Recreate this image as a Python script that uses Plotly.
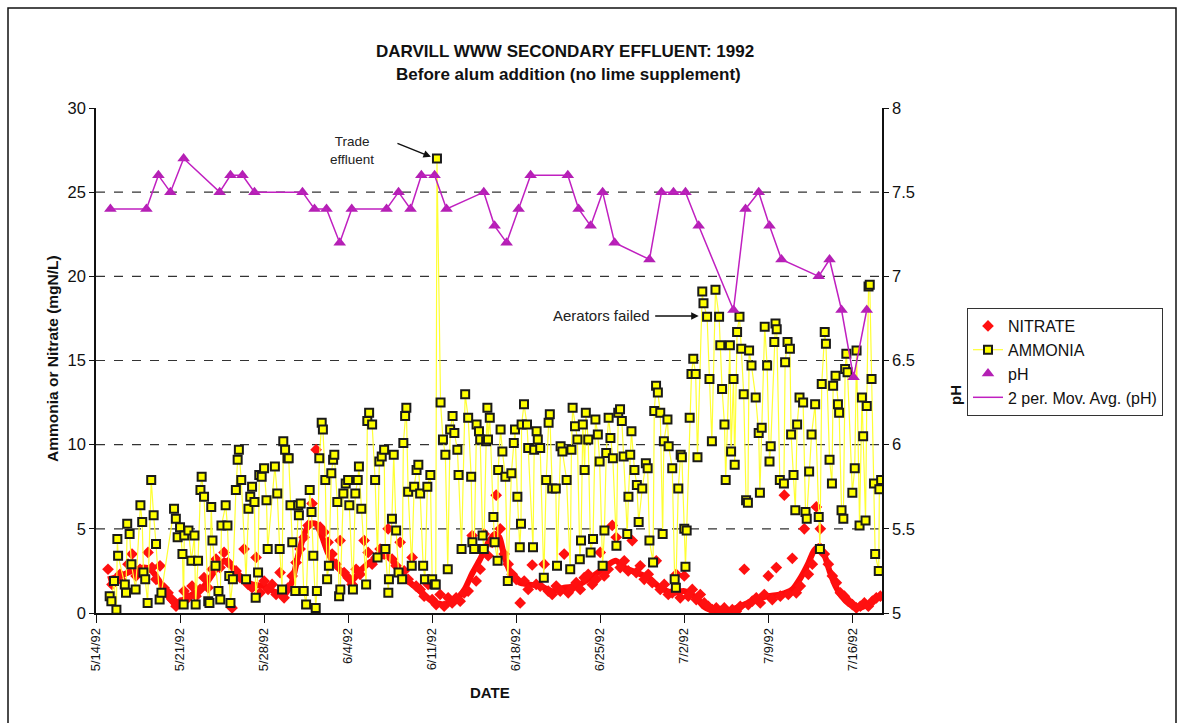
import pandas as pd
import plotly.graph_objects as go

START = pd.Timestamp("1992-05-14")

# ---- pH (daily grab samples); sample time in days after 5/14/92 00:00 ----
ph_day = [1.2, 4.2, 5.2, 6.2, 7.3, 10.3, 11.2, 12.2, 13.2, 17.2, 18.2, 19.2, 20.3, 21.3,
          24.2, 25.2, 26.2, 27.1, 28.2, 29.2, 32.3, 33.2, 34.2, 35.2, 36.2, 39.3, 40.2,
          41.2, 42.2, 43.2, 46.1, 47.1, 48.1, 49.1, 50.2, 53.1, 54.1, 55.2, 56.1, 57.1,
          60.2, 61.1, 62.1, 63.1, 64.2]
ph_val = [7.4, 7.4, 7.6, 7.5, 7.7, 7.5, 7.6, 7.6, 7.5, 7.5, 7.4, 7.4, 7.2, 7.4,
          7.4, 7.5, 7.4, 7.6, 7.6, 7.4, 7.5, 7.3, 7.2, 7.4, 7.6, 7.6, 7.4,
          7.3, 7.5, 7.2, 7.1, 7.5, 7.5, 7.5, 7.3, 6.8, 7.4, 7.5, 7.3, 7.1,
          7.0, 7.1, 6.8, 6.4, 6.8]

# ---- Ammonia (mgN/L) ----
ammonia_day = [
    1.14, 1.28, 1.5, 1.7, 1.78, 1.84, 2.4, 2.5, 2.6, 2.8, 2.95, 3.3, 3.7, 3.85, 3.95, 4.1,
    4.3, 4.6, 4.8, 5.0, 5.3, 5.45, 6.5, 6.65, 6.8, 7.0, 7.2, 7.3, 7.35, 7.7, 7.95, 8.2,
    8.3, 8.5, 8.7, 8.8, 9.0, 9.35, 9.45, 9.6, 9.7, 9.96, 10.2, 10.35, 10.45, 10.8, 10.95,
    11.1, 11.2, 11.4, 11.65, 11.8, 11.9, 12.1, 12.5, 12.7, 12.85, 13.0, 13.2, 13.3, 13.5,
    13.6, 13.8, 14.0, 14.2, 14.3, 14.9, 15.1, 15.3, 15.5, 15.6, 15.75, 15.95, 16.05, 16.2,
    16.35, 16.6, 16.85, 16.9, 17.05, 17.3, 17.5, 17.8, 17.95, 18.1, 18.3, 18.4, 18.6, 18.8,
    18.9, 19.1, 19.25, 19.4, 19.6, 19.75, 19.85, 20.1, 20.25, 20.35, 20.6, 20.8, 21.0, 21.1,
    21.4, 21.6, 21.8, 21.9, 22.1, 22.5, 22.6, 22.75, 23.0, 23.25, 23.45, 23.6, 23.8, 24.0,
    24.1, 24.35, 24.4, 24.65, 24.8, 25.0, 25.2, 25.5, 25.6, 25.75, 25.85, 26.0, 26.3, 26.5,
    26.7, 26.85, 27.0, 27.25, 27.4, 27.6, 27.85, 28.0, 28.2, 28.3, 28.4, 28.7, 28.9, 29.1,
    29.3, 29.5, 29.7, 29.85, 30.1, 30.2, 30.45, 30.75, 31.0, 31.25, 31.35, 31.5, 31.7, 31.9,
    32.0, 32.2, 32.3, 32.5, 32.6, 32.65, 32.8, 33.1, 33.2, 33.45, 33.5, 33.7, 33.85, 34.1,
    34.3, 34.6, 34.8, 34.9, 35.1, 35.3, 35.4, 35.45, 35.65, 35.9, 36.0, 36.4, 36.5, 36.7,
    36.8, 37.0, 37.3, 37.5, 37.7, 37.8, 38.0, 38.3, 38.4, 38.7, 38.85, 39.2, 39.5, 39.6,
    39.7, 39.9, 40.1, 40.3, 40.4, 40.55, 40.7, 40.8, 41.0, 41.2, 41.4, 41.6, 41.8, 41.95,
    42.2, 42.35, 42.5, 42.7, 42.85, 43.05, 43.35, 43.5, 43.65, 43.8, 43.95, 44.25, 44.35,
    44.5, 44.6, 44.85, 45.05, 45.2, 45.5, 45.8, 45.95, 46.1, 46.4, 46.5, 46.65, 46.8, 47.0,
    47.2, 47.3, 47.6, 47.7, 48.0, 48.2, 48.3, 48.5, 48.7, 48.8, 49.0, 49.1, 49.2, 49.45,
    49.6, 49.75, 49.95, 50.1, 50.5, 50.6, 50.9, 51.1, 51.3, 51.6, 51.9, 52.0, 52.15, 52.35,
    52.45, 52.8, 52.9, 53.1, 53.2, 53.4, 53.6, 53.75, 53.95, 54.15, 54.3, 54.4, 54.6, 54.95,
    55.2, 55.3, 55.45, 55.7, 55.9, 56.1, 56.2, 56.5, 56.6, 56.7, 56.96, 57.3, 57.4, 57.6,
    57.8, 57.9, 58.1, 58.25, 58.4, 58.6, 58.9, 59.1, 59.2, 59.4, 59.6, 59.9, 60.2, 60.3,
    60.45, 60.7, 60.8, 61.1, 61.3, 61.4, 61.6, 61.8, 61.9, 62.1, 62.25, 62.4, 62.5, 62.6,
    63.0, 63.2, 63.35, 63.6, 63.8, 63.9, 64.1, 64.2, 64.35, 64.45, 64.6, 64.8, 64.9, 65.2,
    65.25, 65.4]
ammonia_val = [
    1.0, 0.7, 1.9, 0.2, 4.4, 3.4, 1.7, 1.2, 5.3, 4.7, 2.9, 1.4, 6.4, 5.4, 2.4, 2.0,
    0.6, 7.9, 5.8, 4.1, 0.8, 1.2, 6.2, 5.6, 4.5, 5.1, 3.5, 0.5, 4.6, 4.9, 3.1, 4.6,
    0.5, 3.1, 7.3, 8.1, 6.9, 0.7, 0.6, 6.3, 4.3, 2.8, 1.3, 0.8, 5.2, 6.4, 5.2,
    2.2, 0.6, 2.0, 7.3, 9.1, 9.7, 7.9, 2.0, 6.2, 6.9, 7.5, 6.6, 0.9, 2.4,
    8.2, 8.1, 8.6, 6.7, 3.8, 8.7, 7.1, 3.8, 1.4, 10.2, 9.7, 9.2, 9.2, 6.4,
    4.2, 1.3, 6.4, 5.8, 6.5, 1.3, 0.5, 7.3, 6.0, 3.4, 0.3, 1.3, 9.2, 11.3,
    10.9, 7.9, 2.0, 2.8, 8.3, 9.1, 9.4, 6.6, 1.0, 1.4, 7.1, 7.7, 7.9, 6.4,
    1.4, 7.1, 7.9, 8.7, 6.2, 1.7, 11.4, 11.9, 11.2, 7.9, 3.3, 9.0, 9.3, 9.7,
    3.8, 1.2, 2.0, 5.6, 9.4, 4.9, 2.4, 2.0, 10.1, 11.7, 12.2, 7.2, 2.8, 7.5,
    8.5, 8.8, 7.1, 2.8, 2.0, 7.5, 8.2, 2.0, 1.7, 1.7, 27.0, 12.5, 10.3, 9.4,
    2.6, 10.9, 11.7, 10.7, 9.7, 8.2, 3.8, 13.0, 11.6, 8.1, 4.2, 3.8, 11.2, 10.8,
    10.3, 4.6, 3.8, 10.2, 12.2, 10.3, 11.6, 5.7, 4.2, 3.1, 8.5, 10.9, 9.6, 8.1,
    1.9, 8.3, 10.1, 10.9, 6.9, 3.9, 5.3, 11.2, 12.4, 11.2, 9.8, 3.9, 9.7, 10.8,
    10.3, 9.8, 2.1, 7.9, 11.3, 11.8, 7.4, 7.4, 2.8, 9.9, 9.6, 7.9, 2.6, 9.7,
    12.2, 11.1, 10.3, 3.2, 4.3, 11.2, 8.5, 11.9, 10.3, 3.6, 4.4, 11.5, 10.6, 9.0,
    2.8, 4.9, 9.5, 11.6, 10.4, 9.2, 4.0, 11.9, 12.1, 11.4, 9.3, 4.7, 6.9,
    9.4, 10.8, 8.5, 7.6, 5.4, 7.4, 8.9, 8.6, 4.3, 3.0, 12.0, 13.5, 13.1, 11.9,
    4.7, 10.2, 11.5, 9.9, 8.6, 2.0, 1.5, 7.4, 9.4, 9.25, 5.0, 2.75, 4.9, 11.6,
    14.2, 15.1, 14.2, 9.25, 19.1, 18.4, 17.6, 13.9, 10.2, 19.2, 17.6, 15.9, 13.3, 11.2,
    7.9, 15.9, 9.6, 13.9, 8.8, 16.7, 17.6, 15.7, 13.0, 6.7, 6.55, 15.6, 14.7, 12.8,
    10.7, 7.15, 11.0, 17.0, 14.7, 9.0, 9.9, 16.1, 17.2, 16.85, 7.9, 7.7, 14.9, 16.1,
    15.7, 10.6, 8.2, 6.1, 11.2, 12.8, 12.5, 6.0, 5.6, 8.4, 10.6, 12.4, 5.7, 3.8,
    13.6, 16.7, 16.0, 9.1, 7.7, 13.5, 14.1, 12.4, 11.9, 6.1, 5.6, 14.5, 15.4, 14.3,
    7.15, 8.6, 15.6, 5.2, 12.8, 10.5, 5.5, 12.3, 19.4, 19.5, 13.9, 7.7, 3.5, 2.5,
    7.35, 7.9]

# ---- Nitrate (mgN/L), samples every 8 h from 5/15/92 ----
nitrate_val = [
    2.6, 1.7, 2.0, 2.3, 1.8, 2.9, 3.5, 2.2, 2.6, 2.4, 3.6, 2.7, 2.0, 2.8, 1.5,
    1.2, 0.8, 0.4, 0.6, 1.3, 0.9, 1.6, 1.0, 1.4, 2.1, 1.5, 2.6, 3.2, 2.7, 3.6,
    3.0, 0.3, 2.5, 2.1, 3.8, 1.7, 1.5, 3.3, 1.2, 1.9, 1.4, 1.7, 1.1, 2.4, 0.9,
    1.5, 2.2, 3.0, 3.8, 4.5, 5.2, 6.5, 9.7, 5.1, 4.8, 4.2, 3.5, 2.9, 4.3, 2.4,
    2.1, 1.7, 2.6, 2.3, 4.3, 3.6, 2.9, 3.3, 3.8, 3.5, 5.0, 3.2, 2.8, 4.2, 2.5,
    2.0, 3.3, 1.6, 1.4, 1.0, 1.7, 0.8, 0.5, 1.1, 0.4, 0.9, 0.6, 0.9, 0.7, 1.2,
    1.3, 4.6, 1.9, 2.6, 4.7, 3.4, 4.2, 7.0, 5.0, 3.5, 2.9, 2.3, 2.0, 0.6, 1.9,
    1.4, 2.85, 1.7, 1.6, 2.9, 1.3, 1.1, 1.6, 1.3, 3.5, 1.2, 1.5, 1.8, 1.4, 2.1,
    2.3, 1.7, 2.0, 3.6, 2.2, 2.6, 5.2, 4.5, 2.7, 3.1, 2.5, 4.3, 2.4, 2.8, 2.0,
    2.3, 1.8, 3.1, 1.4, 1.7, 1.1, 1.2, 2.3, 0.9, 2.2, 1.0, 1.4, 0.8, 1.1, 0.6,
    0.4, 0.2, 0.3, 0.1, 0.3, 0.0, 0.2, 0.1, 0.4, 2.6, 0.5, 0.7, 0.9, 0.6, 1.1,
    2.2, 0.8, 2.7, 1.0, 7.0, 1.1, 3.25, 1.2, 1.6, 5.0, 2.3, 2.9, 6.3, 5.0, 3.5,
    2.9, 2.2, 1.8, 1.2, 1.0, 0.7, 0.5, 0.3, 0.4, 0.6, 0.4, 0.7, 0.9, 1.0]
nitrate_day = [1 + i / 3 for i in range(len(nitrate_val))]  # 8-hourly sample times

# ---- Nitrate smoothed band ----
nitrate_trend_day = [1.0, 2, 3, 4, 4.5, 5, 5.5, 6, 6.5, 7, 8, 9, 10, 10.7, 11.5, 12, 13, 14,
                     15, 15.7, 16.3, 16.8, 17.3, 17.8, 18.3, 18.8, 19.3, 20, 20.7, 21.3, 22,
                     23, 24, 24.5, 25, 25.7, 26.5, 27.3, 28, 29, 30, 30.7, 31.3, 32, 32.6,
                     33.2, 33.6, 34, 34.6, 35.3, 36, 37, 38, 39, 40, 41, 42, 42.7, 43.3, 44,
                     45, 46, 47, 48, 49, 50, 50.6, 51.3, 52, 53, 54, 55, 56, 57, 58, 58.7,
                     59.3, 59.8, 60.3, 60.7, 61.1, 61.6, 62.1, 62.8, 63.5, 64.3, 65.3]
nitrate_trend = [2.0, 2.2, 2.5, 2.7, 2.6, 2.2, 1.6, 1.0, 0.6, 0.7, 1.1, 1.6, 2.6, 3.1, 2.6, 2.1,
                 1.7, 1.6, 1.2, 1.1, 1.8, 3.3, 4.6, 5.3, 5.3, 4.6, 3.6, 2.8, 2.3, 1.9, 2.5,
                 3.1, 3.4, 3.3, 2.8, 2.1, 1.6, 1.1, 0.7, 0.5, 0.8, 1.4, 2.3, 3.2, 4.1,
                 4.7, 4.5, 3.4, 2.3, 1.8, 1.7, 1.6, 1.3, 1.5, 1.6, 2.0, 2.5, 2.9, 3.1, 2.7,
                 2.4, 2.1, 1.5, 1.2, 1.3, 0.9, 0.4, 0.15, 0.05, 0.2, 0.5, 0.8, 1.0, 1.1, 1.4,
                 2.1, 2.9, 3.7, 4.0, 3.4, 2.5, 1.6, 1.0, 0.5, 0.3, 0.5, 1.0]

# tick labels / axis
x_tick_start = "1992-05-14"
y_left_ticks = [0, 5, 10, 15, 20, 25, 30]
y_right_ticks = [5, 5.5, 6, 6.5, 7, 7.5, 8]


def to_dt(days):
    return START + pd.to_timedelta(pd.Series(days, dtype=float), unit="D")


FONT = "Arial, Liberation Sans, sans-serif"


def px_x(p):
    return (p - 96) / 786


def px_y(p):
    return (613 - p) / 505


fig = go.Figure()

fig.add_trace(go.Scatter(
    x=to_dt(nitrate_trend_day), y=nitrate_trend, mode="lines",
    line=dict(color="#ff0a0a", width=6, shape="spline", smoothing=0.6),
    showlegend=False, hoverinfo="skip"))
fig.add_trace(go.Scatter(
    x=to_dt(nitrate_day), y=nitrate_val, mode="markers", name="NITRATE",
    marker=dict(symbol="diamond", size=9, color="#ff1010", line=dict(width=0)),
    legendrank=1))
fig.add_trace(go.Scatter(
    x=to_dt(ammonia_day), y=ammonia_val, mode="lines+markers", name="AMMONIA",
    line=dict(color="#ffff33", width=1.2),
    marker=dict(symbol="square", size=8, color="#ffff00",
                line=dict(color="#1a1a1a", width=2)),
    legendrank=2))
fig.add_trace(go.Scatter(
    x=to_dt(ph_day), y=ph_val, mode="markers", name="pH", yaxis="y2",
    marker=dict(symbol="triangle-up", size=11, color="#b420b4"),
    legendrank=3))
fig.add_trace(go.Scatter(
    x=to_dt(ph_day), y=ph_val, mode="lines", name="2 per. Mov. Avg. (pH)", yaxis="y2",
    line=dict(color="#c020c0", width=1.5),
    legendrank=4))

# dashed horizontal gridlines
shapes = []
for v in y_left_ticks[1:-1]:
    shapes.append(dict(type="line", xref="paper", yref="y", x0=0, x1=1, y0=v, y1=v,
                       line=dict(color="#333333", width=1.2, dash="dash"), layer="below"))
# outer frame of the chart
shapes.append(dict(type="rect", xref="paper", yref="paper",
                   x0=px_x(8), x1=px_x(1176), y0=px_y(760), y1=px_y(8),
                   line=dict(color="#111111", width=1.5)))


def label(text, xp, yp, size, angle=0, bold=True):
    return dict(text=f"<b>{text}</b>" if bold else text, xref="paper", yref="paper",
                x=px_x(xp), y=px_y(yp), xanchor="center", yanchor="middle",
                showarrow=False, textangle=angle,
                font=dict(size=size, family=FONT, color="#111"))


annotations = [
    label("DARVILL WWW SECONDARY EFFLUENT: 1992", 565, 52, 17),
    label("Before alum addition (no lime supplement)", 568, 75, 17),
    label("Ammonia or Nitrate (mgN/L)", 52, 359, 15.5, angle=-90),
    label("pH", 955, 395, 15, angle=-90),
    label("DATE", 490, 692, 15),
    dict(text="Trade<br>effluent", xref="x", yref="y",
         x=START + pd.Timedelta(days=21.3), y=27.5, showarrow=False,
         xanchor="center", yanchor="middle",
         font=dict(size=13.5, family=FONT, color="#222")),
    dict(text="", xref="x", yref="y", x=START + pd.Timedelta(days=27.9), y=27.1,
         ax=-35, ay=-14, showarrow=True, arrowhead=2, arrowsize=1, arrowwidth=1.5,
         arrowcolor="#111"),
    dict(text="Aerators failed", xref="x", yref="y",
         x=START + pd.Timedelta(days=42.1), y=17.65, showarrow=False,
         xanchor="center", yanchor="middle",
         font=dict(size=15, family=FONT, color="#222")),
    dict(text="", xref="x", yref="y", x=START + pd.Timedelta(days=50.2), y=17.65,
         ax=-45, ay=0, showarrow=True, arrowhead=2, arrowsize=1, arrowwidth=1.5,
         arrowcolor="#111"),
]

fig.update_layout(
    width=1178, height=723,
    margin=dict(l=96, r=296, t=108, b=110),
    paper_bgcolor="white", plot_bgcolor="white",
    font=dict(family=FONT, size=14, color="#111"),
    showlegend=True,
    legend=dict(x=px_x(967), y=px_y(308), xanchor="left", yanchor="top",
                bordercolor="#333", borderwidth=1, bgcolor="white",
                font=dict(size=16, family=FONT, color="#111"),
                tracegroupgap=0, itemwidth=30),
    xaxis=dict(
        type="date",
        range=[START, START + pd.Timedelta(days=65.47)],
        tick0=x_tick_start, dtick=7 * 86400000, tickformat="%-m/%-d/%y",
        tickangle=-90, ticks="outside", ticklen=8, tickcolor="#111",
        showline=True, linecolor="#111", linewidth=1.5, showgrid=False, zeroline=False,
        tickfont=dict(size=13, family=FONT, color="#111")),
    yaxis=dict(
        range=[0, 30], tickvals=y_left_ticks, ticks="outside", ticklen=5, tickcolor="#111",
        showline=True, linecolor="#111", linewidth=1.5, showgrid=False, zeroline=False,
        tickfont=dict(size=16.5, family=FONT, color="#111")),
    yaxis2=dict(
        range=[5, 8], tickvals=y_right_ticks, overlaying="y", side="right",
        ticks="outside", ticklen=5, tickcolor="#111",
        showline=True, linecolor="#111", linewidth=1.5, showgrid=False, zeroline=False,
        tickfont=dict(size=16.5, family=FONT, color="#111")),
    shapes=shapes,
    annotations=annotations,
)

fig.write_html("out.html")
